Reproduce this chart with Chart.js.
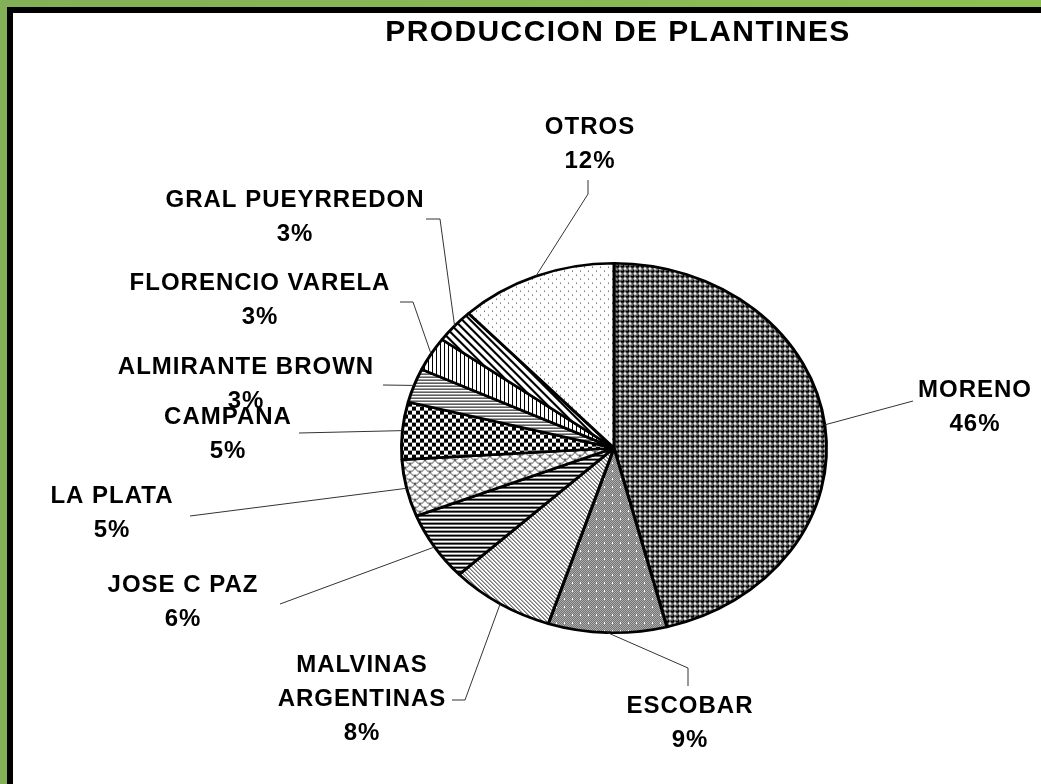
<!DOCTYPE html>
<html>
<head>
<meta charset="utf-8">
<script src="https://cdn.jsdelivr.net/npm/chart.js@4/dist/chart.umd.min.js"></script>
<style>
  html, body { margin: 0; padding: 0; }
  body { width: 1041px; height: 784px; overflow: hidden; position: relative;
         background: linear-gradient(90deg, #82b056, #8cc152); }
  #frame { position: absolute; left: 7px; top: 7px; width: 1040px; height: 780px;
           border-left: 6px solid #000; border-top: 6px solid #000; background: #fff; }
  #myChart { position: absolute; left: 0; top: 0; }
</style>
</head>
<body>
<div id="frame"></div>
<canvas id="myChart" width="1041" height="784"></canvas>
<script>
(function () {
  const categories = [
    "MORENO", "ESCOBAR", ["MALVINAS", "ARGENTINAS"], "JOSE C PAZ", "LA PLATA",
    "CAMPANA", "ALMIRANTE BROWN", "FLORENCIO VARELA", "GRAL PUEYRREDON", "OTROS",
  ];
  const shares = [46, 9, 8, 6, 5, 5, 3, 3, 3, 12];

  // label layout: text centre and leader line start (elbow points towards slice)
  const labelAt = [
    [975, 390], [690, 706], [362, 665], [183, 585], [112, 496],
    [228, 417], [246, 367], [260, 283], [295, 200], [590, 127],
  ];
  const leaders = [
    [[913, 401]],
    [[688, 686], [688, 668]],
    [[452, 700], [465, 700]],
    [[280, 604]],
    [[190, 516]],
    [[299, 433]],
    [[383, 385]],
    [[400, 302], [413, 302]],
    [[426, 219], [440, 219]],
    [[588, 180], [588, 194]],
  ];

  const SY = 186 / 214; // pie is stretched wider than tall

  function tile(w, h, draw) {
    const c = document.createElement("canvas");
    c.width = w; c.height = h;
    const g = c.getContext("2d");
    g.fillStyle = "#fff";
    g.fillRect(0, 0, w, h);
    draw(g, w, h);
    const p = g.createPattern(c, "repeat");
    p.setTransform(new DOMMatrix([1, 0, 0, 1 / SY, 0, 0]));
    return p;
  }
  function px(g, test, w, h, col) {
    g.fillStyle = col || "#000";
    for (let y = 0; y < h; y++)
      for (let x = 0; x < w; x++)
        if (test(x, y)) g.fillRect(x, y, 1, 1);
  }

  const fills = [
    tile(5, 5, (g) => {
      g.fillStyle = "#000";
      g.beginPath(); g.arc(2.5, 2.5, 2.3, 0, Math.PI * 2); g.fill();
      g.fillStyle = "#8a8a8a"; g.fillRect(1, 1, 2, 1);
    }),
    tile(8, 8, (g, w, h) => {
      px(g, (x, y) => (x + y) % 2 === 0, w, h, "#222");
      g.fillStyle = "#fff";
      [[4, 3], [3, 4], [4, 4], [5, 4], [4, 5]].forEach(([x, y]) => g.fillRect(x, y, 1, 1));
    }),
    tile(4, 4, (g, w, h) => px(g, (x, y) => x === y, w, h, "#222")),
    tile(4, 4, (g, w, h) => px(g, (x, y) => y < 2, w, h)),
    tile(10, 8, (g) => {
      g.strokeStyle = "#444"; g.lineWidth = 1;
      [[0, 0], [10, 0], [5, 4], [0, 8], [10, 8], [5, -4]].forEach(([cx, cy]) => {
        g.beginPath(); g.arc(cx, cy, 5, 0, Math.PI); g.stroke();
      });
    }),
    tile(8, 8, (g, w, h) => px(g, (x, y) => ((x >> 2) + (y >> 2)) % 2 === 0, w, h)),
    tile(3, 3, (g, w, h) => px(g, (x, y) => y === 0, w, h)),
    tile(4, 4, (g, w, h) => px(g, (x, y) => x === 0, w, h)),
    tile(8, 8, (g, w, h) => px(g, (x, y) => (x - y + 8) % 8 < 3, w, h)),
    tile(8, 8, (g) => {
      g.fillStyle = "#333"; g.fillRect(0, 0, 1, 1); g.fillRect(4, 4, 1, 1);
    }),
  ];

  const FONT = 'bold 24px "Liberation Sans", Arial, sans-serif';

  const decor = {
    id: "decor",
    beforeDatasetsDraw(chart) {
      const a = chart.getDatasetMeta(0).data[0];
      const ctx = chart.ctx;
      ctx.save();
      ctx.translate(a.x, a.y);
      ctx.scale(1, SY);
      ctx.translate(-a.x, -a.y);
    },
    afterDatasetsDraw(chart) {
      chart.ctx.restore();
    },
    afterDraw(chart) {
      const ctx = chart.ctx;
      const arcs = chart.getDatasetMeta(0).data;
      const total = shares.reduce((s, v) => s + v, 0);
      ctx.save();
      // leader lines
      ctx.strokeStyle = "#333";
      ctx.lineWidth = 1;
      arcs.forEach((arc, i) => {
        const mid = (arc.startAngle + arc.endAngle) / 2;
        const r = arc.outerRadius;
        const ex = arc.x + r * Math.cos(mid);
        const ey = arc.y + r * Math.sin(mid) * SY;
        ctx.beginPath();
        leaders[i].forEach(([x, y], k) => (k ? ctx.lineTo(x, y) : ctx.moveTo(x, y)));
        ctx.lineTo(ex, ey);
        ctx.stroke();
      });
      // labels
      ctx.fillStyle = "#000";
      ctx.font = FONT;
      ctx.letterSpacing = "1px";
      ctx.textAlign = "center";
      ctx.textBaseline = "middle";
      categories.forEach((c, i) => {
        const lines = [].concat(c, Math.round((shares[i] / total) * 100) + "%");
        lines.forEach((t, k) => ctx.fillText(t, labelAt[i][0], labelAt[i][1] + k * 34));
      });
      // title
      ctx.font = 'bold 30px "Liberation Sans", Arial, sans-serif';
      ctx.letterSpacing = "1.4px";
      ctx.fillText("PRODUCCION DE PLANTINES", 618, 33);
      ctx.restore();
    },
  };

  new Chart(document.getElementById("myChart"), {
    type: "pie",
    plugins: [decor],
    options: {
      responsive: false,
      animation: false,
      events: [],
      layout: { padding: { left: 400, right: 213, top: 234, bottom: 122 } },
      plugins: {
        legend: { display: false },
        tooltip: { enabled: false },
      },
    },
    data: {
      labels: categories,
      datasets: [
        {
          label: "Produccion de plantines",
          data: shares,
          backgroundColor: fills,
          borderColor: "#000",
          borderWidth: 3,
        },
      ],
    },
  });
})();
</script>
</body>
</html>
